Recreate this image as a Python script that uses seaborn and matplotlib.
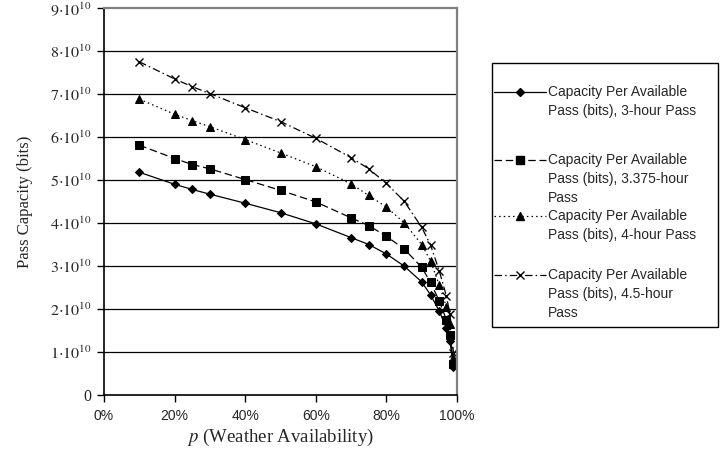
import matplotlib
matplotlib.use("Agg")
import matplotlib.pyplot as plt
from matplotlib.lines import Line2D
from matplotlib.patches import Rectangle
import seaborn as sns
import pandas as pd

# Weather availability p (%) at which pass capacity was evaluated
p_values = [10, 20, 25, 30, 40, 50, 60, 70, 75, 80, 85, 90, 92.5, 95, 97, 98, 99]

# Capacity per available pass (units of 1e10 bits)
cap_3h = [5.18, 4.90, 4.78, 4.67, 4.46, 4.24, 3.98, 3.66, 3.50, 3.28, 3.00, 2.63, 2.33, 1.95, 1.55, 1.25, 0.65]
cap_3375h = [5.81, 5.50, 5.36, 5.26, 5.01, 4.76, 4.49, 4.12, 3.94, 3.69, 3.40, 2.97, 2.62, 2.18, 1.75, 1.40, 0.73]
cap_4h = [6.88, 6.53, 6.38, 6.24, 5.94, 5.63, 5.31, 4.91, 4.64, 4.37, 4.01, 3.50, 3.12, 2.55, 2.05, 1.65, 0.87]
cap_45h = [7.75, 7.35, 7.17, 7.01, 6.68, 6.36, 5.97, 5.52, 5.26, 4.92, 4.51, 3.90, 3.49, 2.88, 2.30, 1.88, 0.98]

series_labels = [
    "Capacity Per Available\nPass (bits), 3-hour Pass",
    "Capacity Per Available\nPass (bits), 3.375-hour\nPass",
    "Capacity Per Available\nPass (bits), 4-hour Pass",
    "Capacity Per Available\nPass (bits), 4.5-hour\nPass",
]
x_tick_vals = [0, 20, 40, 60, 80, 100]
x_tick_labels = ["0%", "20%", "40%", "60%", "80%", "100%"]
y_tick_vals = [0, 1, 2, 3, 4, 5, 6, 7, 8, 9]
y_tick_labels = ["0"] + [r"$%d{\cdot}10^{10}$" % v for v in y_tick_vals[1:]]

sns.set_style("white")
plt.rcParams["font.family"] = ["Liberation Sans", "DejaVu Sans"]
plt.rcParams["mathtext.fontset"] = "stix"

W, H = 723, 466
fig = plt.figure(figsize=(W / 100, H / 100), dpi=100)
ax = fig.add_axes([104 / W, 1 - 395 / H, (457 - 104) / W, (395 - 8) / H])

styles = [
    dict(marker="D", markersize=4.5, linestyle="-"),
    dict(marker="s", markersize=5.5, linestyle=(0, (6, 3))),
    dict(marker="^", markersize=6, linestyle=(0, (1.2, 2.5))),
    dict(marker="x", markersize=6, markeredgewidth=1.0, linestyle=(0, (6, 2.5, 1.2, 2.5))),
]
all_caps = [cap_3h, cap_3375h, cap_4h, cap_45h]

for caps, st in zip(all_caps, styles):
    df = pd.DataFrame({"p": p_values, "cap": [c * 1e10 for c in caps]})
    sns.lineplot(data=df, x="p", y="cap", ax=ax, color="black", linewidth=0.9,
                 markeredgecolor="black", markerfacecolor="black", legend=False,
                 **st)

ax.set_xlim(0, 100)
ax.set_ylim(0, 9e10)
ax.set_xticks(x_tick_vals)
ax.set_xticklabels(x_tick_labels, fontsize=10)
ax.set_yticks([v * 1e10 for v in y_tick_vals])
ax.set_yticklabels(y_tick_labels, fontsize=11.5)
for lbl in ax.get_yticklabels():
    lbl.set_fontfamily(["Liberation Serif"])

for v in y_tick_vals[1:-1]:
    ax.axhline(v * 1e10, color="black", linewidth=0.9, zorder=0)

for side in ["top", "right"]:
    ax.spines[side].set_color("#808080")
    ax.spines[side].set_linewidth(1.6)
for side in ["left", "bottom"]:
    ax.spines[side].set_color("black")
    ax.spines[side].set_linewidth(1.2)
    ax.spines[side].set_visible(True)

ax.tick_params(axis="both", direction="out", length=5, width=1, color="black",
               left=True, bottom=True, pad=4)
ax.tick_params(axis="x", pad=5)

ax.set_xlabel(r"$p$ (Weather Availability)", fontsize=13.5, family="Liberation Serif",
              labelpad=3)
ax.set_ylabel("Pass Capacity (bits)", fontsize=12, family="Liberation Serif", labelpad=12)


def fx(px):
    return px / W


def fy(py):
    return 1 - py / H


# Legend panel
fig.add_artist(Rectangle((fx(492), fy(327)), (718 - 492) / W, (327 - 63) / H,
                         transform=fig.transFigure, facecolor="white",
                         edgecolor="black", linewidth=1.0))
entry_tops = [92, 160, 216, 275]
line_gap = 19
for label, st, y0 in zip(series_labels, styles, entry_tops):
    fig.add_artist(Line2D([fx(494), fx(546)], [fy(y0), fy(y0)], transform=fig.transFigure,
                          color="black", linewidth=0.9, linestyle=st["linestyle"]))
    mk = {k: v for k, v in st.items() if k != "linestyle"}
    fig.add_artist(Line2D([fx(520)], [fy(y0)], transform=fig.transFigure,
                          color="black", linestyle="none", markerfacecolor="black",
                          markeredgecolor="black", **mk))
    for i, line in enumerate(label.split("\n")):
        fig.text(fx(548), fy(y0 + i * line_gap), line, fontsize=10,
                 ha="left", va="center", family="Liberation Sans")

fig.savefig("out.png", dpi=100)
